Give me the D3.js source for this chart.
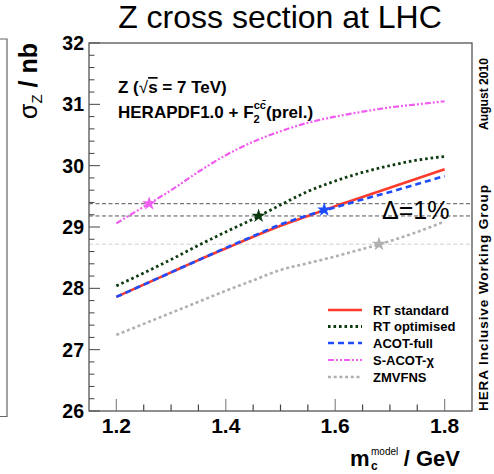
<!DOCTYPE html>
<html><head><meta charset="utf-8">
<script src="https://cdn.jsdelivr.net/npm/d3@7"></script>
<style>body{margin:0;background:#fff}svg{display:block;font-family:"Liberation Sans",Arial,Helvetica,sans-serif}</style>
</head><body><svg id="c" width="494" height="474"></svg>
<script>
// ---- data ----
const mass = [1.2, 1.25, 1.3, 1.35, 1.4, 1.45, 1.5, 1.55, 1.6, 1.65, 1.7, 1.75, 1.8];
const rtStandard  = [27.86, 28.06, 28.26, 28.46, 28.65, 28.84, 29.02, 29.18, 29.34, 29.49, 29.64, 29.79, 29.94];
const rtOptimised = [28.04, 28.25, 28.47, 28.70, 28.92, 29.13, 29.36, 29.58, 29.75, 29.89, 30.00, 30.09, 30.15];
const acotFull    = [27.86, 28.06, 28.26, 28.46, 28.66, 28.85, 29.04, 29.19, 29.32, 29.45, 29.57, 29.70, 29.83];
const sAcotChi    = [29.06, 29.33, 29.60, 29.90, 30.17, 30.39, 30.56, 30.70, 30.80, 30.88, 30.95, 31.00, 31.05];
const zmvfns      = [27.24, 27.42, 27.60, 27.78, 27.96, 28.13, 28.30, 28.41, 28.52, 28.64, 28.77, 28.92, 29.09];
const seriesNames = ["RT standard", "RT optimised", "ACOT-full", "S-ACOT-\u03C7", "ZMVFNS"];
const starMass  = [1.26, 1.46, 1.58, 1.68];
const starSigma = [29.38, 29.18, 29.28, 28.72];
const refLines  = [29.38, 29.18, 28.72];
const yTicks = [26, 27, 28, 29, 30, 31, 32];
const xTicks = [1.2, 1.4, 1.6, 1.8];

// ---- styles ----
const styles = [
  {color:"#ff3b2b", dash:null, w:2.6, data:rtStandard},
  {color:"#0e3a10", dash:"2.6,2.9", w:2.8, data:rtOptimised},
  {color:"#1d4dff", dash:"6,4", w:2.6, data:acotFull},
  {color:"#f05cf0", dash:"6,2,2,2,2,2", w:2.2, data:sAcotChi},
  {color:"#b0b0b0", dash:"3,2.7", w:2.6, data:zmvfns}
];
const starColors = ["#f060f0", "#0e3a10", "#1d4dff", "#b0b0b0"];

const svg = d3.select("#c");
const L=89, R=472, T=43, B=411;
const x = d3.scaleLinear().domain([1.15, 1.85]).range([L, R]);
const y = d3.scaleLinear().domain([26, 32]).range([B, T]);

// fragment of neighbouring frame at left edge
svg.append("path").attr("d","M0,39H7V416.5H0").attr("fill","none").attr("stroke","#666").attr("stroke-width",1.2);

// title
svg.append("text").attr("x",280).attr("y",28).attr("text-anchor","middle")
  .attr("font-size",32).attr("fill","#000").text("Z cross section at LHC");

// reference horizontal lines
svg.selectAll("line.ref").data(refLines).join("line").attr("class","ref")
  .attr("x1",L).attr("x2",R).attr("y1",d=>y(d)).attr("y2",d=>y(d))
  .attr("stroke",(d,i)=> i<2 ? "#555" : "#cfcfcf").attr("stroke-width",1)
  .attr("stroke-dasharray","4,2.5");

// y ticks
svg.append("g").selectAll("line").data(d3.range(26, 32.001, 0.2)).join("line")
  .attr("x1",L).attr("x2",d=> Math.abs(d-Math.round(d))<1e-6 ? L+11 : L+5.5)
  .attr("y1",d=>y(d)).attr("y2",d=>y(d)).attr("stroke","#444").attr("stroke-width",1);
// x ticks
svg.append("g").selectAll("line").data(d3.range(1.2, 1.8001, 0.05)).join("line")
  .attr("x1",d=>x(d)).attr("x2",d=>x(d)).attr("y1",B)
  .attr("y2",d=> Math.abs(d*5-Math.round(d*5))<1e-6 ? B-12 : B-6.5)
  .attr("stroke",d=> Math.abs(d*5-Math.round(d*5))<1e-6 ? "#888" : "#444").attr("stroke-width",1.2);

// frame
svg.append("rect").attr("x",L).attr("y",T).attr("width",R-L).attr("height",B-T)
  .attr("fill","none").attr("stroke","#555").attr("stroke-width",1.3);

// tick labels
svg.append("g").selectAll("text").data(yTicks).join("text")
  .attr("x",84).attr("y",d=>y(d)+7).attr("text-anchor","end")
  .attr("font-size",19.5).attr("font-weight","bold").text(d=>d);
svg.append("g").selectAll("text").data(xTicks).join("text")
  .attr("x",d=>x(d)).attr("y",433).attr("text-anchor","middle")
  .attr("font-size",21).attr("font-weight","bold").text(d=>d3.format(".1f")(d));

// curves
const line = d3.line().x((d,i)=>x(mass[i])).y(d=>y(d)).curve(d3.curveMonotoneX);
[4,3,1,0,2].forEach(k=>{
  const s = styles[k];
  svg.append("path").attr("d",line(s.data)).attr("fill","none")
    .attr("stroke",s.color).attr("stroke-width",s.w)
    .attr("stroke-dasharray",s.dash);
});

// stars
const star = d3.symbol().type(d3.symbolStar).size(64);
svg.append("g").selectAll("path").data(starMass).join("path")
  .attr("transform",(d,i)=>`translate(${x(d)},${y(starSigma[i])})`)
  .attr("d",star).attr("fill",(d,i)=>starColors[i]);

// delta label
svg.append("text").attr("x",382).attr("y",219).attr("font-size",25).attr("fill","#000")
  .text("\u0394=1%");

// legend
const legY = [310, 326.5, 343, 360, 377];
seriesNames.forEach((name,i)=>{
  const s = styles[i];
  svg.append("line").attr("x1",328).attr("x2",362).attr("y1",legY[i]).attr("y2",legY[i])
    .attr("stroke",s.color).attr("stroke-width",s.w).attr("stroke-dasharray",s.dash);
  svg.append("text").attr("x",373).attr("y",legY[i]+4.5).attr("font-size",13)
    .attr("font-weight","bold").text(name);
});

// annotation texts
const t1 = svg.append("text").attr("x",118).attr("y",93).attr("font-size",17).attr("font-weight","bold");
t1.append("tspan").text("Z (");
t1.append("tspan").attr("font-weight","normal").text("\u221A");
t1.append("tspan").attr("text-decoration","overline").text("s");
t1.append("tspan").text(" = 7 TeV)");

const t2 = svg.append("text").attr("x",118).attr("y",118).attr("font-size",17).attr("font-weight","bold");
t2.append("tspan").text("HERAPDF1.0 + F");
t2.append("tspan").attr("font-size",11).attr("dy",5).text("2");
t2.append("tspan").attr("font-size",11).attr("dx",-6).attr("dy",-14).text("cc\u0304");
t2.append("tspan").attr("dy",9).text("(prel.)");

// y axis title
const yt = svg.append("text").attr("transform","translate(37,43) rotate(-90)")
  .attr("text-anchor","end").attr("font-size",25).attr("font-weight","bold");
yt.append("tspan").attr("font-weight","normal").text("\u03C3");
yt.append("tspan").attr("font-size",15).attr("font-weight","normal").attr("dy",5).text("Z");
yt.append("tspan").attr("dy",-5).text(" / nb");

// x axis title
svg.append("text").attr("x",350).attr("y",466).attr("font-size",22).attr("font-weight","bold").text("m");
svg.append("text").attr("x",371).attr("y",455).attr("font-size",10).text("model");
svg.append("text").attr("x",371).attr("y",470).attr("font-size",12).attr("font-weight","bold").text("c");
svg.append("text").attr("x",460).attr("y",466).attr("text-anchor","end").attr("font-size",22).attr("font-weight","bold").text("/ GeV");

// right side labels
svg.append("text").attr("transform","translate(488,130) rotate(-90)")
  .attr("font-size",13.5).attr("font-weight","bold").attr("textLength",72).attr("lengthAdjust","spacingAndGlyphs").text("August 2010");
svg.append("text").attr("transform","translate(488,411) rotate(-90)")
  .attr("font-size",13.5).attr("font-weight","bold").attr("textLength",226).attr("lengthAdjust","spacing").text("HERA Inclusive Working Group");
</script></body></html>
